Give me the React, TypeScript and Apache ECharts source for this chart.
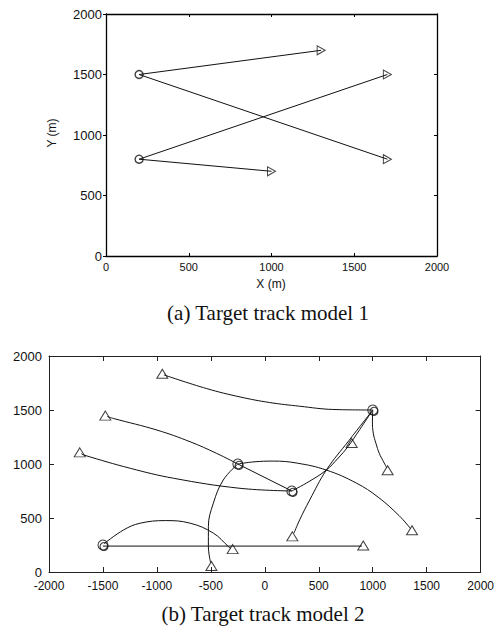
import React, { useEffect, useRef } from "react";
import * as echarts from "echarts";

// ---------- (a) Target track model 1 ----------
const topXTicks = [0, 500, 1000, 1500, 2000];
const topYTicks = [0, 500, 1000, 1500, 2000];
const topStarts = [
  [200, 1500],
  [200, 800],
];
const topEnds = [
  [1300, 1700],
  [1700, 800],
  [1700, 1500],
  [1000, 700],
];
const topTrack1 = [
  [200, 1500],
  [1300, 1700],
];
const topTrack2 = [
  [200, 1500],
  [1700, 800],
];
const topTrack3 = [
  [200, 800],
  [1700, 1500],
];
const topTrack4 = [
  [200, 800],
  [1000, 700],
];

// ---------- (b) Target track model 2 ----------
const botXTicks = [-2000, -1500, -1000, -500, 0, 500, 1000, 1500, 2000];
const botYTicks = [0, 500, 1000, 1500, 2000];
const botStarts = [
  [1000, 1500],
  [-250, 1000],
  [250, 750],
  [-1500, 250],
];
const botStartsInner = [
  [1012, 1488],
  [-238, 988],
  [262, 738],
  [-1490, 236],
];
const botEnds = [
  [-950, 1835],
  [-1478, 1448],
  [-1715, 1108],
  [-298, 212],
  [-495, 55],
  [255, 330],
  [912, 246],
  [805, 1195],
  [1138, 942],
  [1364, 386],
];
const botCurve1 = [
  [1000, 1500],
  [631, 1505],
  [323, 1535],
  [46, 1569],
  [-230, 1621],
  [-538, 1698],
  [-935, 1825],
];
const botCurve2 = [
  [1000, 1500],
  [780, 1218],
  [570, 944],
  [416, 667],
  [323, 483],
  [270, 360],
];
const botCurve3 = [
  [1000, 1500],
  [997, 1390],
  [1005, 1285],
  [1030, 1190],
  [1060, 1100],
  [1095, 1030],
  [1130, 965],
];
const botCurve4 = [
  [250, 750],
  [410, 838],
  [570, 944],
  [680, 1055],
  [769, 1159],
  [880, 1320],
  [1000, 1500],
];
const botCurve5 = [
  [-250, 1000],
  [-446, 1098],
  [-692, 1206],
  [-999, 1314],
  [-1400, 1421],
  [-1460, 1440],
];
const botCurve6 = [
  [-250, 1000],
  [-385, 852],
  [-477, 637],
  [-523, 421],
  [-523, 236],
  [-502, 85],
];
const botCurve7 = [
  [-250, 1000],
  [-100, 1020],
  [77, 1027],
  [300, 1008],
  [570, 944],
  [847, 824],
  [1050, 693],
  [1246, 520],
  [1350, 402],
];
const botLine8 = [
  [-250, 1000],
  [250, 750],
];
const botCurve9 = [
  [250, 750],
  [-230, 775],
  [-846, 868],
  [-1246, 960],
  [-1677, 1083],
  [-1700, 1095],
];
const botCurve10 = [
  [-1490, 262],
  [-1308, 390],
  [-1154, 452],
  [-923, 476],
  [-692, 452],
  [-477, 360],
  [-338, 236],
  [-315, 218],
];
const botLine11 = [
  [-1500, 240],
  [900, 240],
];

const SANS = "'Liberation Sans', Arial, sans-serif";
const SERIF = "'Liberation Serif', 'Times New Roman', serif";

function makeAxis(
  ticks: number[],
  gridIndex: number,
  position: string,
  showLabel: boolean,
  tickInside: boolean,
  tickLen: number,
  fontSize: number,
  margin: number,
  lineWidth: number,
  color: string
) {
  return {
    type: "value",
    gridIndex,
    position,
    min: ticks[0],
    max: ticks[ticks.length - 1],
    interval: ticks[1] - ticks[0],
    axisLine: { show: true, onZero: false, lineStyle: { color, width: lineWidth } },
    axisTick: { show: true, inside: tickInside, length: tickLen, lineStyle: { color, width: 1 } },
    axisLabel: {
      show: showLabel,
      color: "#111",
      fontFamily: SANS,
      fontSize,
      margin,
      showMinLabel: true,
      showMaxLabel: true,
      formatter: (v: number) => String(v),
    },
    splitLine: { show: false },
  };
}

function lineSeries(data: number[][], xi: number, yi: number, smooth: boolean | number) {
  return {
    type: "line",
    xAxisIndex: xi,
    yAxisIndex: yi,
    data,
    smooth,
    symbol: "none",
    lineStyle: { color: "#111", width: 1 },
    z: 2,
  };
}

function markerSeries(
  data: number[][],
  xi: number,
  yi: number,
  symbol: string,
  size: number | number[],
  rotate: number,
  bw: number
) {
  return {
    type: "scatter",
    xAxisIndex: xi,
    yAxisIndex: yi,
    data,
    symbol,
    symbolSize: size,
    symbolRotate: rotate,
    itemStyle: { color: "rgba(0,0,0,0)", borderColor: "#111", borderWidth: bw },
    z: 3,
  };
}

export default function App() {
  const ref = useRef<HTMLDivElement>(null);
  useEffect(() => {
    if (!ref.current) return;
    const chart = echarts.init(ref.current, undefined, { renderer: "svg" });
    const option = {
      animation: false,
      backgroundColor: "#fff",
      grid: [
        { left: 106, top: 14, width: 331, height: 242, containLabel: false },
        { left: 49, top: 356, width: 433, height: 216, containLabel: false },
      ],
      xAxis: [
        makeAxis(topXTicks, 0, "bottom", true, true, 3, 11, 5, 1.3, "#000"),
        makeAxis(topXTicks, 0, "top", false, true, 3, 11, 5, 1.3, "#000"),
        makeAxis(botXTicks, 1, "bottom", true, true, 5, 12, 8, 1, "#222"),
        makeAxis(botXTicks, 1, "top", false, true, 5, 12, 8, 1, "#222"),
      ],
      yAxis: [
        makeAxis(topYTicks, 0, "left", true, false, 3, 13, 4, 1.3, "#000"),
        makeAxis(topYTicks, 0, "right", false, true, 3, 13, 4, 1.3, "#000"),
        makeAxis(botYTicks, 1, "left", true, true, 5, 13, 7, 1, "#222"),
        makeAxis(botYTicks, 1, "right", false, true, 5, 13, 7, 1, "#222"),
      ],
      series: [
        lineSeries(topTrack1, 0, 0, false),
        lineSeries(topTrack2, 0, 0, false),
        lineSeries(topTrack3, 0, 0, false),
        lineSeries(topTrack4, 0, 0, false),
        markerSeries(topStarts, 0, 0, "circle", 8, 0, 1.4),
        markerSeries(topEnds, 0, 0, "triangle", [9, 8], -90, 1),
        lineSeries(botCurve1, 2, 2, 0.4),
        lineSeries(botCurve2, 2, 2, 0.4),
        lineSeries(botCurve3, 2, 2, 0.4),
        lineSeries(botCurve4, 2, 2, 0.4),
        lineSeries(botCurve5, 2, 2, 0.4),
        lineSeries(botCurve6, 2, 2, 0.4),
        lineSeries(botCurve7, 2, 2, 0.4),
        lineSeries(botLine8, 2, 2, false),
        lineSeries(botCurve9, 2, 2, 0.4),
        lineSeries(botCurve10, 2, 2, 0.4),
        lineSeries(botLine11, 2, 2, false),
        markerSeries(botStarts, 2, 2, "circle", 10, 0, 1.1),
        markerSeries(botStartsInner, 2, 2, "circle", 8, 0, 1.1),
        markerSeries(botEnds, 2, 2, "triangle", [11, 9], 0, 1),
      ],
      graphic: [
        {
          type: "text",
          x: 271,
          y: 284,
          style: { text: "X (m)", font: `12px ${SANS}`, fill: "#111", align: "center", verticalAlign: "middle" },
        },
        {
          type: "text",
          x: 52,
          y: 133,
          rotation: Math.PI / 2,
          style: { text: "Y (m)", font: `12px ${SANS}`, fill: "#111", align: "center", verticalAlign: "middle" },
        },
        {
          type: "text",
          x: 268,
          y: 313,
          style: { text: "(a) Target track model 1", font: `21px ${SERIF}`, fill: "#111", align: "center", verticalAlign: "middle" },
        },
        {
          type: "text",
          x: 263,
          y: 614,
          style: { text: "(b) Target track model 2", font: `21px ${SERIF}`, fill: "#111", align: "center", verticalAlign: "middle" },
        },
      ],
    };
    chart.setOption(option as any);
    return () => chart.dispose();
  }, []);
  return (
    <div
      ref={ref}
      style={{ position: "fixed", left: 0, top: 0, width: 497, height: 635, background: "#fff" }}
    />
  );
}
